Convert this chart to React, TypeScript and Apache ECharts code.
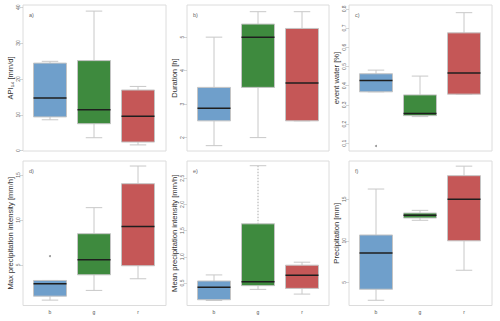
import React, { useEffect, useRef } from "react";
import * as echarts from "echarts";

const categories = ["b", "g", "r"];
const panelLetters = ["a)", "b)", "c)", "d)", "e)", "f)"];
const yNames = [
  "API₁₄ [mm/d]",
  "Duration [h]",
  "event water [%]",
  "Max precipitation intensity [mm/h]",
  "Mean precipitation intensity [mm/h]",
  "Precipitation [mm]",
];

// each row: [lower whisker, Q1, median, Q3, upper whisker] for b, g, r
const apiBoxes = [
  [8.6, 9.4, 14.7, 24.4, 24.9],
  [3.6, 7.5, 11.4, 25.1, 38.9],
  [1.6, 2.4, 9.6, 16.9, 17.9],
];
const durationBoxes = [
  [1.76, 2.5, 2.88, 3.5, 5.0],
  [2.0, 3.5, 5.0, 5.39, 5.76],
  [2.5, 2.5, 3.63, 5.26, 5.76],
];
const eventWaterBoxes = [
  [0.368, 0.368, 0.427, 0.462, 0.481],
  [0.239, 0.244, 0.255, 0.352, 0.45],
  [0.356, 0.356, 0.466, 0.675, 0.78],
];
const maxIntensityBoxes = [
  [1.06, 1.5, 2.88, 3.25, 3.25],
  [2.14, 3.88, 5.56, 8.46, 11.36],
  [3.44, 4.89, 9.27, 14.03, 16.0],
];
const meanIntensityBoxes = [
  [0.167, 0.18, 0.417, 0.538, 0.654],
  [0.378, 0.449, 0.526, 1.63, 2.74],
  [0.288, 0.397, 0.647, 0.84, 0.897],
];
const precipitationBoxes = [
  [2.83, 4.16, 8.53, 10.7, 16.24],
  [12.47, 12.75, 13.07, 13.35, 13.67],
  [6.45, 10.0, 15.0, 17.85, 19.0],
];

// outliers: [category index, value]
const apiOutliers: number[][] = [];
const durationOutliers: number[][] = [];
const eventWaterOutliers = [[0, 0.086]];
const maxIntensityOutliers = [[0, 5.97]];
const meanIntensityOutliers: number[][] = [];
const precipitationOutliers: number[][] = [];

const apiTicks = [0, 10, 20, 30, 40];
const durationTicks = [2, 3, 4, 5];
const eventWaterTicks = [0.1, 0.2, 0.3, 0.4, 0.5, 0.6, 0.7, 0.8];
const maxIntensityTicks = [5, 10, 15];
const meanIntensityTicks = [0.5, 1.0, 1.5, 2.0, 2.5];
const precipitationTicks = [5, 10, 15];

const allBoxes = [apiBoxes, durationBoxes, eventWaterBoxes, maxIntensityBoxes, meanIntensityBoxes, precipitationBoxes];
const allOutliers = [apiOutliers, durationOutliers, eventWaterOutliers, maxIntensityOutliers, meanIntensityOutliers, precipitationOutliers];
const allTicks = [apiTicks, durationTicks, eventWaterTicks, maxIntensityTicks, meanIntensityTicks, precipitationTicks];
const tickDecimals = [0, 0, 1, 0, 1, 0];

// [panel index, category index] whose upper whisker is drawn dotted
const dottedUpperWhiskers = [[4, 1]];

// layout (pixels) and axis extents
const yMins = [-0.1, 1.6, 0.06, 0.46, 0.07, 2.2];
const yMaxs = [40.6, 5.96, 0.82, 16.56, 2.83, 19.62];
const cols = [
  { frameL: 23, frameR: 166, gridL: 28, gridR: 160 },
  { frameL: 187, frameR: 329, gridL: 192, gridR: 324 },
  { frameL: 349, frameR: 492, gridL: 354, gridR: 486 },
];
const rows = [
  { top: 5, bottom: 151 },
  { top: 161, bottom: 305.5 },
];

const boxColors = ["#6F9FCB", "#3E8A3E", "#C55757"];
const FONT = "Liberation Sans, Arial, Helvetica, sans-serif";

export default function App() {
  const ref = useRef<HTMLDivElement>(null);

  useEffect(() => {
    if (!ref.current) return;
    const chart = echarts.init(ref.current, undefined, { renderer: "svg" });

    const grids: any[] = [];
    const xAxes: any[] = [];
    const yAxes: any[] = [];
    const series: any[] = [];
    const graphics: any[] = [];

    for (let i = 0; i < 6; i++) {
      const c = cols[i % 3];
      const r = rows[Math.floor(i / 3)];
      const bottomRow = i >= 3;
      grids.push({
        left: c.gridL,
        top: r.top,
        width: c.gridR - c.gridL,
        height: r.bottom - r.top,
      });
      xAxes.push({
        type: "category",
        gridIndex: i,
        data: categories,
        boundaryGap: true,
        axisLine: { show: false },
        axisTick: { show: false },
        axisLabel: {
          show: bottomRow,
          fontSize: 5,
          color: "#555",
          fontFamily: FONT,
          margin: 4,
        },
        splitLine: { show: false },
      });
      const dec = tickDecimals[i];
      yAxes.push({
        type: "value",
        gridIndex: i,
        min: yMins[i],
        max: yMaxs[i],
        offset: c.gridL - c.frameL,
        name: yNames[i],
        nameLocation: "middle",
        nameRotate: 90,
        nameGap: 9,
        nameTextStyle: { fontSize: 7.6, color: "#333", fontFamily: FONT },
        axisLine: { show: false },
        axisTick: {
          show: true,
          length: 3,
          lineStyle: { color: "#bbb", width: 0.6 },
          customValues: allTicks[i],
        },
        axisLabel: {
          rotate: 90,
          fontSize: 5,
          color: "#666",
          fontFamily: FONT,
          margin: 3,
          customValues: allTicks[i],
          formatter: (v: number) => v.toFixed(dec),
        },
        splitLine: { show: false },
      });

      const panel = i;
      const boxData = allBoxes[i].map((b, k) => [k, ...b]);
      series.push({
        type: "custom",
        xAxisIndex: i,
        yAxisIndex: i,
        data: boxData,
        encode: { x: 0, y: [1, 2, 3, 4, 5] },
        renderItem: (_params: any, api: any) => {
          const cat = api.value(0);
          const lo = api.coord([cat, api.value(1)]);
          const q1 = api.coord([cat, api.value(2)]);
          const med = api.coord([cat, api.value(3)]);
          const q3 = api.coord([cat, api.value(4)]);
          const hi = api.coord([cat, api.value(5)]);
          const band = api.size([1, 0])[0];
          const w = band * 0.75;
          const cap = w * 0.5;
          const cx = lo[0];
          const gray = "#c8c8c8";
          const ls = { stroke: gray, lineWidth: 1 };
          const dotted = dottedUpperWhiskers.some((d) => d[0] === panel && d[1] === cat);
          const upperStyle = dotted ? { stroke: "#aaa", lineWidth: 1, lineDash: [1.5, 1.5] } : ls;
          return {
            type: "group",
            children: [
              { type: "line", shape: { x1: cx, y1: hi[1], x2: cx, y2: q3[1] }, style: upperStyle },
              { type: "line", shape: { x1: cx, y1: q1[1], x2: cx, y2: lo[1] }, style: ls },
              { type: "line", shape: { x1: cx - cap / 2, y1: hi[1], x2: cx + cap / 2, y2: hi[1] }, style: ls },
              { type: "line", shape: { x1: cx - cap / 2, y1: lo[1], x2: cx + cap / 2, y2: lo[1] }, style: ls },
              {
                type: "rect",
                shape: { x: cx - w / 2, y: q3[1], width: w, height: q1[1] - q3[1] },
                style: { fill: boxColors[cat], stroke: "#c4c4c4", lineWidth: 1 },
              },
              {
                type: "line",
                shape: { x1: cx - w / 2, y1: med[1], x2: cx + w / 2, y2: med[1] },
                style: { stroke: "#1e1e1e", lineWidth: 1.5 },
              },
            ],
          };
        },
      });

      series.push({
        type: "scatter",
        xAxisIndex: i,
        yAxisIndex: i,
        data: allOutliers[i],
        symbolSize: 2,
        itemStyle: { color: "#777" },
        clip: false,
      });

      graphics.push({
        type: "rect",
        shape: { x: c.frameL, y: r.top, width: c.frameR - c.frameL, height: r.bottom - r.top },
        style: { fill: "none", stroke: "#dcdcdc", lineWidth: 1 },
        silent: true,
        z: 0,
      });
      graphics.push({
        type: "text",
        x: c.frameL + 6,
        y: r.top + 10,
        style: {
          text: panelLetters[i],
          fontSize: 5.5,
          fill: "#666",
          fontFamily: FONT,
          verticalAlign: "middle",
          align: "left",
        },
      });
    }

    chart.setOption({
      animation: false,
      backgroundColor: "#fff",
      grid: grids,
      xAxis: xAxes,
      yAxis: yAxes,
      series,
      graphic: graphics,
    });

    return () => chart.dispose();
  }, []);

  return (
    <div
      ref={ref}
      style={{ position: "fixed", left: 0, top: 0, width: 500, height: 321 }}
    />
  );
}
